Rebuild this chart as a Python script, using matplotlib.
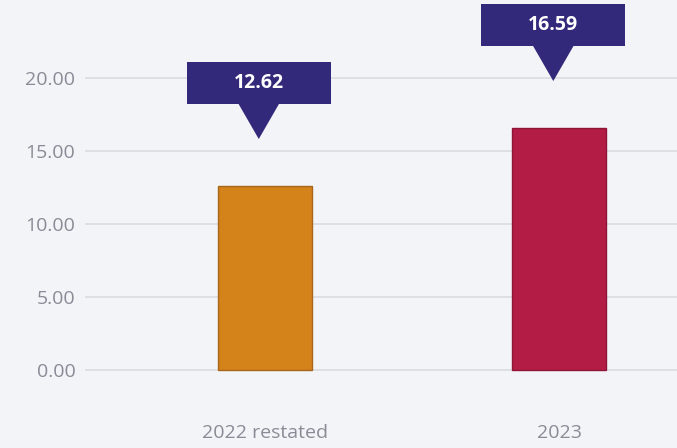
import matplotlib
matplotlib.use("Agg")
import matplotlib.pyplot as plt
from matplotlib.patches import Polygon, Rectangle

# data
categories = ["2022 restated", "2023"]
values = [12.62, 16.59]
bar_colors = ["#D4821A", "#B21C45"]
edge_colors = ["#A8661A", "#8E1535"]
yticks = [0, 5, 10, 15, 20]

BG = "#F3F4F8"
NAVY = "#33297A"
GRID = "#D9DBE2"
TICK = "#8A8B96"

plt.rcParams["font.family"] = ["Open Sans", "DejaVu Sans"]

fig = plt.figure(figsize=(6.77, 4.48), dpi=100, facecolor=BG)
ax = fig.add_axes([85 / 677, (448 - 395) / 448, 1 - 85 / 677, 395 / 448])
ax.set_facecolor(BG)

x = list(range(len(categories)))
ax.bar(x, values, width=0.32, color=bar_colors, edgecolor=edge_colors,
       linewidth=1.0, zorder=3)

ax.set_xlim(-0.61, 1.40)
ax.set_ylim(-1.71, 25.34)
ax.set_yticks(yticks)
ax.set_yticklabels([f"{v:.2f}" for v in yticks], fontsize=14, color=TICK)
ax.set_xticks(x)
ax.set_xticklabels(categories, fontsize=14, color=TICK)
ax.tick_params(axis="y", length=0, pad=7)
ax.tick_params(axis="x", length=0, pad=21)
for s in ax.spines.values():
    s.set_visible(False)
ax.grid(axis="y", color=GRID, linewidth=1.2, zorder=0)

# callouts above each bar
box_w = 0.49
box_h = 2.9
tip_depth = 2.4
tip_half = 0.07
for i, v in enumerate(values):
    cx = x[i] - 0.02
    tip = v + 3.2
    bottom = tip + tip_depth
    ax.add_patch(Rectangle((cx - box_w / 2, bottom), box_w, box_h,
                           facecolor=NAVY, edgecolor="none", zorder=4,
                           clip_on=False))
    ax.add_patch(Polygon([(cx - tip_half, bottom + 0.05),
                          (cx + tip_half, bottom + 0.05),
                          (cx, tip)],
                         closed=True, facecolor=NAVY, edgecolor="none",
                         zorder=4, clip_on=False))
    ax.text(cx, bottom + box_h / 2, f"{v:.2f}", color="white",
            fontsize=14, fontweight="bold", ha="center", va="center",
            zorder=5)

fig.savefig("out.png", dpi=100, facecolor=BG)
